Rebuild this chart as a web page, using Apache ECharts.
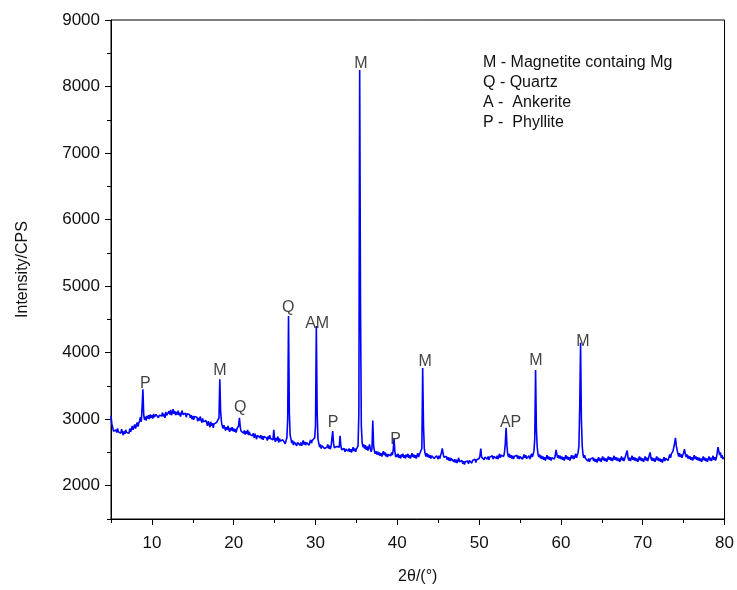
<!DOCTYPE html>
<html><head><meta charset="utf-8">
<script src="https://cdn.jsdelivr.net/npm/echarts@6/dist/echarts.min.js"></script>
<style>html,body{margin:0;padding:0;background:#fff}#c{width:737px;height:590px}</style>
</head><body><div id="c"></div>
<script>
// 2θ start and step of the scan (degrees)
const twoThetaStart = 5.0;
const twoThetaStep = 0.1;
// Intensity (CPS), one row per degree: x.0 .. x.9
const intensity = [
3050,2930,2880,2820,2850,2790,2840,2800,2860,2810,
2780,2830,2790,2850,2800,2760,2820,2780,2840,2800,
2770,2830,2790,2860,2810,2850,2900,2840,2880,2920,
2860,2910,2950,2890,2940,2980,3030,2960,3180,3450,
3060,2990,3040,2980,3050,3010,3060,3000,3070,3020,
3060,3010,3080,3030,3000,3070,3040,3090,3020,3060,
3030,3090,3050,3100,3040,3080,3020,3110,3060,3090,
3050,3120,3070,3140,3060,3100,3150,3080,3120,3060,
3110,3070,3130,3060,3100,3040,3090,3130,3070,3100,
3050,3090,3030,3080,3110,3050,3070,3020,3060,3000,
3050,2990,3040,3070,3010,3030,2970,3020,2980,3040,
2990,2950,3010,2960,2990,2930,2980,2950,2900,2970,
2930,2880,2960,2900,2940,2870,2930,2960,2900,2950,
2920,2980,3020,3600,3120,2960,2900,2860,2910,2870,
2830,2880,2840,2900,2850,2810,2870,2830,2880,2820,
2860,2810,2850,2800,2860,2830,2900,3020,2880,2820,
2800,2850,2790,2830,2770,2820,2780,2840,2760,2810,
2770,2740,2800,2750,2790,2720,2780,2740,2700,2760,
2730,2780,2720,2760,2700,2750,2690,2740,2710,2770,
2720,2680,2740,2700,2760,2710,2680,2730,2690,2840,
2700,2660,2720,2680,2740,2650,2710,2670,2700,2640,
2690,2660,2710,2630,2680,2720,3000,4550,3100,2760,
2700,2640,2680,2610,2660,2630,2670,2600,2650,2620,
2660,2610,2650,2600,2640,2680,2620,2660,2610,2650,
2630,2670,2610,2650,2690,2640,2680,2700,2660,2720,
2900,4400,3100,2700,2640,2580,2620,2560,2600,2570,
2610,2560,2590,2540,2580,2620,2560,2600,2550,2590,
2600,2820,2640,2570,2600,2550,2590,2560,2610,2580,
2750,2600,2540,2570,2520,2560,2510,2550,2530,2570,
2520,2560,2510,2550,2500,2540,2580,2520,2560,2510,
2550,2520,2600,3100,8250,4700,2900,2650,2580,2620,
2560,2610,2540,2590,2530,2570,2620,2550,2510,2560,
2980,2600,2520,2480,2520,2470,2510,2460,2500,2450,
2490,2440,2480,2520,2460,2500,2440,2480,2430,2470,
2440,2490,2450,2500,2460,2540,2700,2520,2430,2470,
2430,2480,2420,2460,2410,2470,2430,2480,2420,2460,
2410,2470,2430,2480,2420,2460,2410,2450,2490,2430,
2470,2420,2460,2410,2450,2490,2430,2470,2500,2480,
2560,3770,2900,2560,2480,2440,2490,2430,2470,2420,
2460,2410,2450,2420,2470,2410,2440,2400,2450,2420,
2400,2450,2410,2460,2500,2560,2480,2430,2460,2410,
2440,2390,2430,2380,2420,2370,2410,2380,2420,2360,
2400,2350,2390,2340,2380,2420,2360,2390,2340,2380,
2330,2370,2320,2360,2390,2340,2370,2330,2380,2350,
2390,2340,2380,2410,2360,2400,2350,2390,2420,2380,
2410,2450,2560,2430,2400,2440,2390,2430,2410,2450,
2400,2440,2390,2430,2460,2410,2450,2400,2440,2420,
2460,2410,2450,2400,2440,2480,2420,2460,2430,2470,
2440,2500,2640,2870,2600,2470,2430,2480,2420,2460,
2410,2450,2400,2440,2470,2420,2460,2410,2450,2400,
2440,2410,2450,2400,2430,2470,2420,2460,2410,2440,
2410,2450,2400,2440,2480,2430,2470,2520,2700,3740,
2850,2580,2470,2430,2470,2410,2450,2400,2440,2390,
2430,2380,2420,2460,2400,2440,2390,2430,2380,2420,
2390,2440,2400,2450,2540,2480,2420,2460,2410,2450,
2400,2440,2390,2430,2380,2420,2460,2400,2440,2390,
2430,2380,2420,2460,2410,2450,2400,2440,2480,2420,
2460,2500,2600,3200,4150,3000,2600,2470,2420,2460,
2410,2380,2420,2370,2410,2360,2400,2430,2380,2420,
2370,2410,2360,2400,2350,2390,2430,2370,2410,2360,
2400,2440,2380,2420,2370,2410,2360,2400,2440,2390,
2430,2380,2420,2370,2410,2450,2390,2430,2380,2420,
2370,2410,2360,2400,2440,2380,2420,2370,2410,2390,
2430,2530,2420,2380,2420,2370,2410,2450,2390,2430,
2380,2420,2370,2410,2360,2400,2440,2380,2420,2370,
2410,2360,2400,2440,2380,2420,2370,2410,2460,2500,
2420,2380,2420,2370,2410,2360,2400,2440,2380,2420,
2370,2410,2360,2400,2350,2390,2430,2370,2410,2380,
2420,2380,2430,2470,2420,2480,2450,2520,2580,2640,
2720,2600,2540,2480,2440,2490,2430,2470,2420,2460,
2500,2550,2480,2430,2470,2410,2450,2400,2440,2390,
2430,2380,2420,2460,2400,2440,2390,2430,2380,2420,
2370,2410,2360,2400,2440,2380,2420,2370,2410,2360,
2400,2440,2380,2420,2370,2410,2450,2390,2430,2380,
2420,2490,2580,2520,2460,2500,2420,2460,2400,2430,
2380
];
// Peak annotations
const peakLabelText = ['P','M','Q','Q','AM','P','M','P','M','AP','M','M'];
const peakLabelX    = [9.2,18.3,20.8,26.65,30.2,32.15,35.55,39.8,43.4,53.85,56.95,62.7];
const peakLabelY    = [3540,3735,3167,4677,4438,2942,8341,2688,3869,2942,3884,4169];
// Phase key
const phaseKey = ['M - Magnetite containg Mg','Q - Quartz','A -  Ankerite','P -  Phyllite'];
// Axis ticks
const xMajorTicks = [10,20,30,40,50,60,70,80];
const yMajorTicks = [2000,3000,4000,5000,6000,7000,8000,9000];

const seriesData = intensity.map((v,i)=>[+(twoThetaStart + i*twoThetaStep).toFixed(2), v]);
const labelData = peakLabelText.map((t,i)=>({value:[peakLabelX[i], peakLabelY[i]], name:t}));

const FONT = 'Liberation Sans, Arial, sans-serif';
const chart = echarts.init(document.getElementById('c'), null, {renderer:'canvas'});
const grid = {left:111, right:10, top:20, bottom:69, show:true, borderColor:'#000', borderWidth:1, backgroundColor:'transparent'};
chart.setOption({
  animation:false,
  backgroundColor:'#fff',
  grid: grid,
  xAxis: [{
    type:'value', min:5, max:80, interval:5,
    name:'2θ/(°)', nameLocation:'middle', nameGap:50,
    nameTextStyle:{fontFamily:FONT, fontSize:16, color:'#111'},
    axisLine:{show:true, lineStyle:{color:'#000', width:1}},
    axisTick:{show:true, inside:false, length:6, customValues:xMajorTicks, lineStyle:{color:'#000'}},
    axisLabel:{show:true, customValues:xMajorTicks, margin:16, fontFamily:FONT, fontSize:17, color:'#111', formatter:v=>String(v)},
    splitLine:{show:false}
  },{
    type:'value', min:5, max:80, interval:5, position:'bottom',
    axisLine:{show:false}, axisLabel:{show:false}, splitLine:{show:false},
    axisTick:{show:true, length:4, lineStyle:{color:'#000'}}
  }],
  yAxis: [{
    type:'value', min:1500, max:9000, interval:500,
    name:'Intensity/CPS', nameLocation:'middle', nameGap:80, nameRotate:90,
    nameTextStyle:{fontFamily:FONT, fontSize:16, color:'#111'},
    axisLine:{show:true, lineStyle:{color:'#000', width:1}},
    axisTick:{show:true, length:6, customValues:yMajorTicks, lineStyle:{color:'#000'}},
    axisLabel:{show:true, customValues:yMajorTicks, margin:11, fontFamily:FONT, fontSize:17, color:'#111', formatter:v=>String(v)},
    splitLine:{show:false}
  },{
    type:'value', min:1500, max:9000, interval:500, position:'left',
    axisLine:{show:false}, axisLabel:{show:false}, splitLine:{show:false},
    axisTick:{show:true, length:4, lineStyle:{color:'#000'}}
  }],
  series: [{
    type:'line', data:seriesData, showSymbol:false, symbol:'none',
    lineStyle:{color:'#0000ff', width:1.6}, silent:true, z:2
  },{
    type:'scatter', data:labelData, symbolSize:0, silent:true, z:3,
    label:{show:true, position:'inside', formatter:p=>p.name, fontFamily:FONT, fontSize:16, color:'#111'}
  }],
  graphic: phaseKey.map((t,i)=>({
    type:'text', left:483, top:55 + i*20,
    style:{text:t, font:'16px '+FONT, fill:'#111'}
  }))
});
</script></body></html>
